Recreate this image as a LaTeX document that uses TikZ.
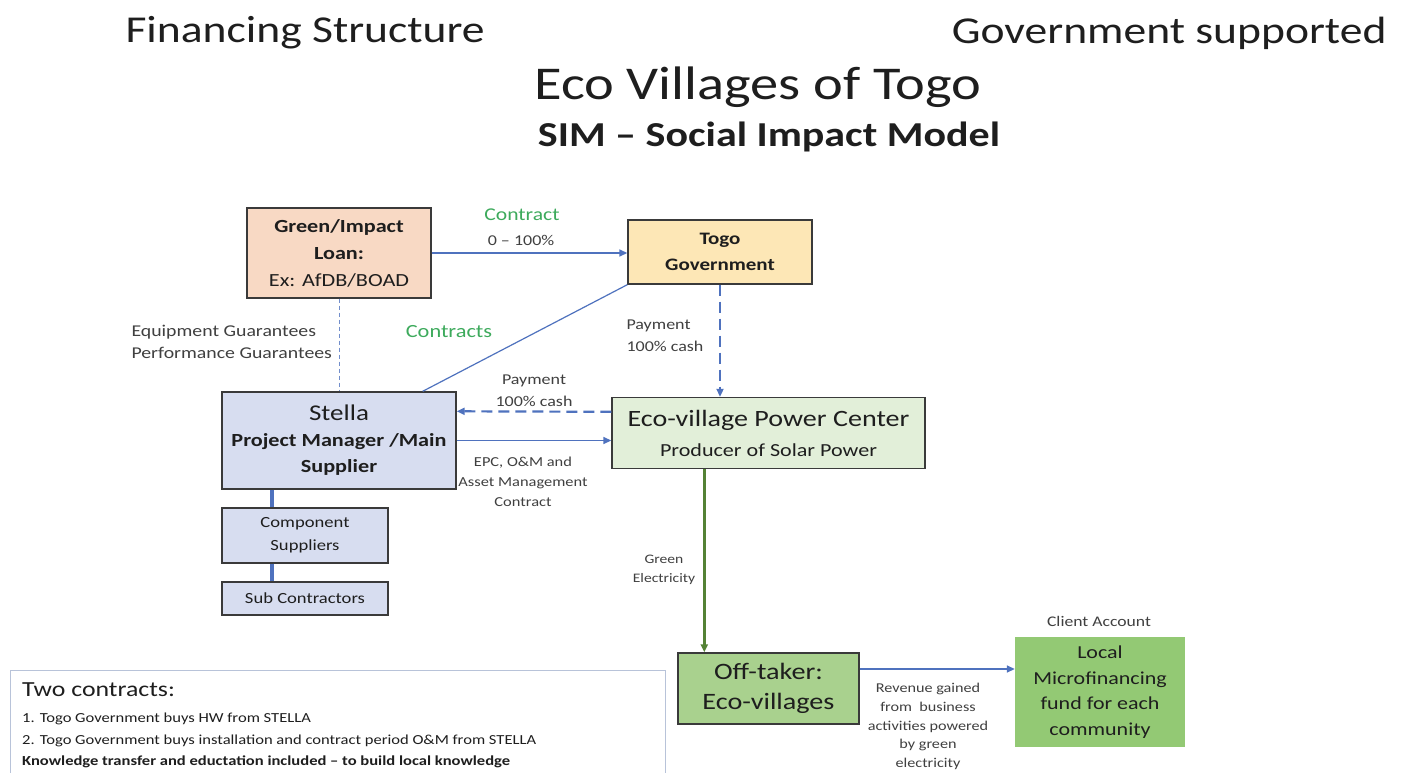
\documentclass[tikz,border=0pt]{standalone}
\usepackage{fontspec}
\setmainfont{Carlito}[FakeStretch=1.2]
\usetikzlibrary{arrows.meta,calc}

\definecolor{ink}{HTML}{1E1E1E}
\definecolor{boxline}{HTML}{3A3A3A}
\definecolor{loanfill}{HTML}{F8D9C4}
\definecolor{togofill}{HTML}{FDE7B6}
\definecolor{stellafill}{HTML}{D7DDF0}
\definecolor{powerfill}{HTML}{E2EFD9}
\definecolor{offfill}{HTML}{A9D18E}
\definecolor{microfill}{HTML}{93C974}
\definecolor{flowblue}{HTML}{4F72BE}
\definecolor{elecgreen}{HTML}{548235}
\definecolor{labelgreen}{HTML}{3DAA5C}
\definecolor{labelgray}{HTML}{404040}
\definecolor{noteline}{HTML}{B8C3D9}

% font size and baseline skip in one go
\newcommand\fs[2]{\fontsize{#1}{#2}\selectfont}

\begin{document}
\begin{tikzpicture}[x=1pt,y=-1pt,text=ink,
  box/.style={draw=boxline,line width=1.4pt,align=center,inner sep=0pt},
  flow/.style={draw=flowblue,line width=1.6pt,-{Triangle[length=8pt,width=7pt]}},
  payflow/.style={flow,line width=2.2pt,dash pattern=on 11pt off 6pt},
  lbl/.style={text=labelgray,align=center}]
  \fill[white] (0,0) rectangle (1406,773);
  \useasboundingbox (0,0) rectangle (1406,773);

  % headings
  \node (fin) at (122,33) [anchor=west,font=\fs{38}{40}] {Financing Structure};
  \node (govsup) at (1390,33) [anchor=east,font=\fs{38}{40}] {Government supported};
  \node (eco) at (758,87) [font=\fs{47}{50}] {Eco Villages of Togo};
  \node (sim) at (769,137) [font=\fs{35}{40}\bfseries] {SIM -- Social Impact Model};

  % boxes
  \node (loan) at (339,253) [box,fill=loanfill,minimum width=184pt,minimum height=90pt,
    font=\fs{18.5}{27}] {\bfseries Green/Impact\\ \bfseries Loan:\\ Ex: AfDB/BOAD};
  \node (togo) at (720,252) [box,fill=togofill,minimum width=184pt,minimum height=64pt,
    font=\fs{17.5}{26}\bfseries] {Togo\\ Government};
  \node (stella) at (339,440.5) [box,fill=stellafill,minimum width=234pt,minimum height=97pt,
    font=\fs{18.5}{26}] {\fs{22.5}{29}Stella\\ \bfseries Project Manager /Main\\ \bfseries Supplier};
  \node (comp) at (305,535.5) [box,fill=stellafill,minimum width=166pt,minimum height=55pt,
    font=\fs{15.5}{23}] {Component\\ Suppliers};
  \node (sub) at (305,598.5) [box,fill=stellafill,minimum width=166pt,minimum height=33pt,
    font=\fs{15.5}{20}] {Sub Contractors};
  \node (power) at (768.5,433) [box,fill=powerfill,minimum width=313pt,minimum height=71pt,
    font=\fs{18.4}{30}] {\fs{23.4}{30}Eco-village Power Center\\ Producer of Solar Power};
  \node (off) at (768.5,688.5) [box,fill=offfill,minimum width=181pt,minimum height=71pt,
    font=\fs{23.5}{30}] {Off-taker:\\ Eco-villages};
  \node (micro) at (1100,692) [align=center,inner sep=0pt,fill=microfill,minimum width=170pt,
    minimum height=110pt,font=\fs{18.3}{25.5}] {Local\\ Microfinancing\\ fund for each\\ community};

  % connectors
  \draw[flow] (loan.east) -- (loan.east -| togo.west);
  \draw[draw=flowblue!80,line width=1pt,dash pattern=on 4pt off 3pt] (loan) -- (stella);
  \draw[draw=flowblue,line width=1.2pt] (togo.south west) -- ($(stella.north east)+(-34,0)$);
  \draw[payflow] (togo.south) -- (togo.south |- power.north);
  \draw[payflow] ($(power.north west)+(0,15)$) -- ($(stella.north east)+(0,20)$);
  \draw[flow] (stella.east) -- (stella.east -| power.west);
  \draw[draw=flowblue,line width=4pt] ($(stella.south west)+(51,0)$) -- ($(comp.north west)+(51,0)$);
  \draw[draw=flowblue,line width=4pt] ($(comp.south west)+(51,0)$) -- ($(sub.north west)+(51,0)$);
  \draw[flow,draw=elecgreen,line width=2.4pt] ($(power.south west)+(93,0)$) -- ($(off.north west)+(27,0)$);
  \draw[flow] ($(off.east)+(0,-19.5)$) -- ($(micro.west)+(0,-23)$);

  % labels
  \node (contract) at (522,215) [text=labelgreen,font=\fs{18}{22}] {Contract};
  \node (share) at (521,240) [lbl,font=\fs{15}{18}] {0 -- 100\%};
  \node (guar) at (128,342) [lbl,anchor=west,align=left,font=\fs{16.5}{22}] {Equipment Guarantees\\ Performance Guarantees};
  \node (contracts) at (449,332) [text=labelgreen,font=\fs{18.6}{22}] {Contracts};
  \node (paygov) at (623,336) [lbl,anchor=west,align=left,font=\fs{15}{22}] {Payment\\ 100\% cash};
  \node (paystella) at (534,391) [lbl,font=\fs{15}{22}] {Payment\\ 100\% cash};
  \node (epc) at (523,482) [lbl,font=\fs{13.7}{20}] {EPC, O\&M and\\ Asset Management\\ Contract};
  \node (elec) at (664,569.5) [lbl,font=\fs{13}{19}] {Green\\ Electricity};
  \node (revenue) at (928,726.5) [lbl,font=\fs{13.5}{18.7}] {Revenue gained\\ from\ \ business\\ activities powered\\ by green\\ electricity};
  \node (client) at (1099,621) [lbl,font=\fs{14.7}{18}] {Client Account};

  % note box
  \node (note) at (10,670) [anchor=north west,draw=noteline,line width=1pt,
    minimum width=655pt,minimum height=115pt,inner sep=0pt] {};
  \node (notetext) at (22,682) [anchor=north west,align=left,inner sep=0pt,font=\fs{13.8}{21.5}]
    {\fs{21.5}{24}Two contracts:\\[5pt]
     1. Togo Government buys HW from STELLA\\
     2. Togo Government buys installation and contract period O\&M from STELLA\\
     \bfseries Knowledge transfer and eductation included -- to build local knowledge};
\end{tikzpicture}
\end{document}
